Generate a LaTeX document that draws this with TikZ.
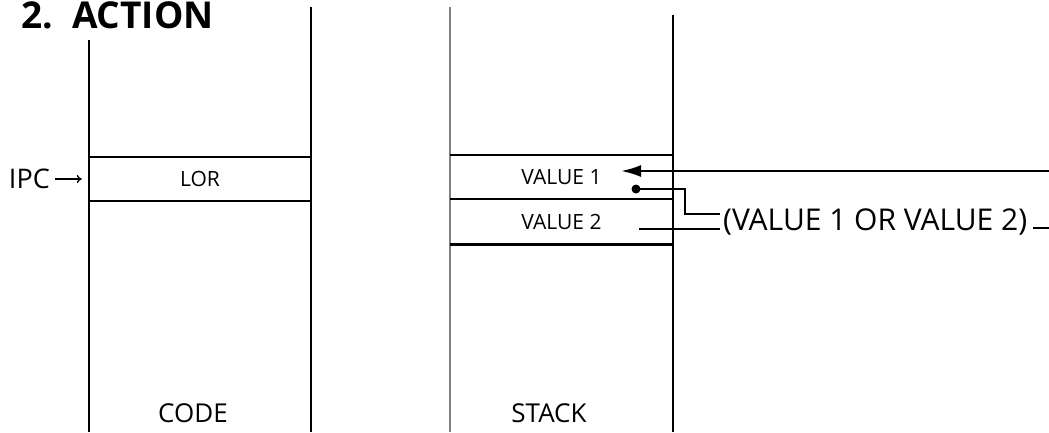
\documentclass[tikz,border=0pt]{standalone}
\usepackage{fontspec}
\setmainfont{Open Sans}
\usetikzlibrary{arrows.meta, positioning, calc}
\begin{document}
\begin{tikzpicture}[x=1pt, y=-1pt,
    every node/.style={font=\fontsize{21}{24}\selectfont, inner sep=0pt},
    col/.style={line width=2.3pt},
    faint/.style={line width=1.2pt, black!50},
    cell/.style={minimum width=222pt, minimum height=44pt},
    big/.style={font=\fontsize{30}{33}\selectfont},
    foot/.style={font=\fontsize{26}{30}\selectfont},
    ttl/.style={font=\bfseries\fontsize{37}{40}\selectfont, anchor=base west},
    dp/.style={-{Latex[length=20pt, width=12pt]}, line width=2.3pt},
    ptr/.style={-{To[length=5pt, width=8pt]}, line width=1.3pt},
    ln/.style={line width=2.3pt},
    knob/.style={circle, fill, minimum size=9pt}
]
\useasboundingbox (0,0) rectangle (1049,432);
\def\Cl{89}\def\Cr{311}\def\Sl{450}\def\Sr{673}

\node[ttl] (title) at (21,28) {2.\ \ ACTION};

\draw[col] (\Cl,40) -- (\Cl,432);
\draw[col] (\Cr,7) -- (\Cr,432);
\draw[faint] (\Sl,7) -- (\Sl,432);
\draw[col] (\Sr,15) -- (\Sr,432);

\node[cell] (lor) at (200,179) {LOR};
\draw[col] (lor.north west) -- (lor.north east);
\draw[col] (lor.south west) -- (lor.south east);
\node[anchor=east, font=\fontsize{27}{30}\selectfont] (ipc) at (50,179) {IPC};
\draw[ptr] ([xshift=5pt]ipc.east) -- ([xshift=-7pt]lor.west);

\node[cell, minimum width=223pt] (val1) at (561.5,177) {VALUE 1};
\node[cell, minimum width=223pt, minimum height=45pt, below=0pt of val1] (val2) {VALUE 2};
\draw[col] (val1.north west) -- (val1.north east);
\draw[col] (val1.south west) -- (val1.south east);
\draw[col] (val2.south west) -- (val2.south east);

\node[foot] (codelbl) at (193,413) {CODE};
\node[foot] (stacklbl) at (549,413) {STACK};

\node[big, anchor=base west] (res) at (723,230) {(VALUE 1 OR VALUE 2)};

\coordinate (inR) at (1049,171);
\coordinate (v1in) at (621,171);
\draw[dp] (inR) -- (v1in);

\node[knob] (dot) at (636,189) {};
\coordinate (bend) at (685,214);
\draw[ln] (dot.center) -| (bend) -- ([shift={(-3pt,16pt)}]res.base west);

\coordinate (v2out) at (639,229);
\draw[ln] (v2out) -- ([shift={(-3pt,1pt)}]res.base west);

\coordinate (tailL) at (1033,228);
\coordinate (tailR) at (1049,228);
\draw[ln] (tailL) -- (tailR);
\end{tikzpicture}
\end{document}
